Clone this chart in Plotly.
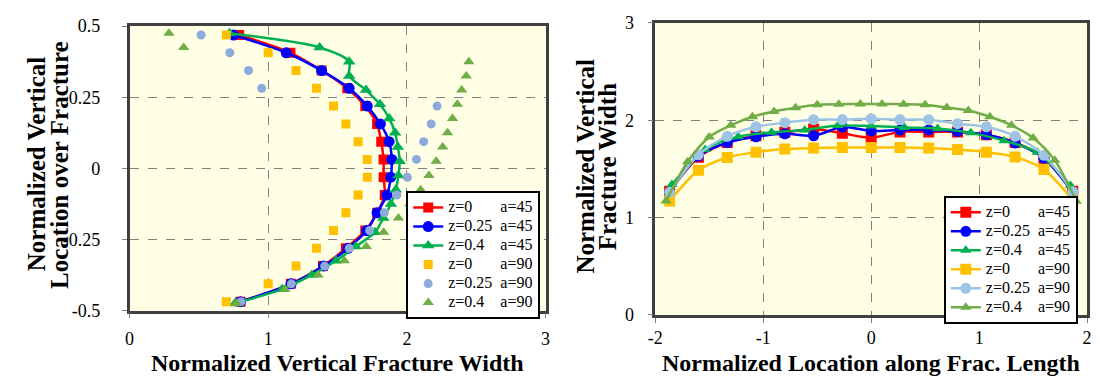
import plotly.graph_objects as go

# ---------------- left panel: width profile over fracture height ----------------
# vertical locations (16-cell and 20-cell discretisations)
y16 = [0.46875, 0.40625, 0.34375, 0.28125, 0.21875, 0.15625, 0.09375, 0.03125,
       -0.03125, -0.09375, -0.15625, -0.21875, -0.28125, -0.34375, -0.40625, -0.46875]
y20 = [0.475, 0.425, 0.375, 0.325, 0.275, 0.225, 0.175, 0.125, 0.075, 0.025,
       -0.025, -0.075, -0.125, -0.175, -0.225, -0.275, -0.325, -0.375, -0.425, -0.475]

wv_z0_a45 = [0.79, 1.16, 1.385, 1.57, 1.70, 1.785, 1.815, 1.832,
             1.832, 1.84, 1.785, 1.70, 1.56, 1.395, 1.163, 0.80]
wv_z025_a45 = [0.75, 1.13, 1.385, 1.584, 1.714, 1.809, 1.872, 1.891,
               1.884, 1.856, 1.785, 1.71, 1.575, 1.40, 1.165, 0.80]
wv_z04_a45 = [0.72, 1.371, 1.584, 1.584, 1.705, 1.806, 1.873, 1.915, 1.935, 1.948,
              1.939, 1.92, 1.885, 1.83, 1.77, 1.631, 1.489, 1.315, 1.10, 0.76]
wv_z0_a90 = [0.698, 1.0, 1.201, 1.348, 1.471, 1.560, 1.648, 1.714,
             1.714, 1.648, 1.560, 1.471, 1.348, 1.201, 1.0, 0.698]
wv_z025_a90 = [0.516, 0.723, 0.858, 0.953, 2.218, 2.175, 2.121, 2.069,
               2.003, 1.927, 1.837, 1.731, 1.584, 1.407, 1.167, 0.804]
wv_z04_a90 = [0.284, 0.39, 2.447, 2.428, 2.395, 2.364, 2.329, 2.293, 2.258, 2.211,
              2.159, 2.099, 2.021, 1.939, 1.832, 1.707, 1.549, 1.359, 1.12, 0.77]

# ---------------- right panel: width along fracture length ----------------
x15 = [-1.867, -1.6, -1.333, -1.067, -0.8, -0.533, -0.267, 0.0,
       0.267, 0.533, 0.8, 1.067, 1.333, 1.6, 1.867]
x13 = [-1.846, -1.538, -1.231, -0.923, -0.615, -0.308, 0.0,
       0.308, 0.615, 0.923, 1.231, 1.538, 1.846]
x20 = [-1.9, -1.7, -1.5, -1.3, -1.1, -0.9, -0.7, -0.5, -0.3, -0.1,
       0.1, 0.3, 0.5, 0.7, 0.9, 1.1, 1.3, 1.5, 1.7, 1.9]

wl_z0_a45 = [1.27, 1.62, 1.77, 1.84, 1.875, 1.91, 1.865, 1.82,
             1.88, 1.88, 1.88, 1.85, 1.77, 1.61, 1.27]
wl_z025_a45 = [1.26, 1.63, 1.77, 1.83, 1.86, 1.84, 1.93, 1.89,
               1.90, 1.90, 1.885, 1.85, 1.765, 1.61, 1.26]
wl_z04_a45 = [1.34, 1.70, 1.83, 1.875, 1.90, 1.945, 1.94,
              1.925, 1.915, 1.87, 1.79, 1.67, 1.33]
wl_z0_a90 = [1.17, 1.485, 1.617, 1.672, 1.704, 1.714, 1.72, 1.72,
             1.72, 1.714, 1.698, 1.672, 1.623, 1.494, 1.18]
wl_z025_a90 = [1.26, 1.645, 1.834, 1.932, 1.975, 2.005, 2.006, 2.015,
               2.006, 2.005, 1.964, 1.932, 1.834, 1.64, 1.266]
wl_z04_a90 = [1.17, 1.574, 1.828, 1.947, 2.035, 2.09, 2.127, 2.159, 2.165, 2.167,
              2.167, 2.165, 2.159, 2.13, 2.10, 2.035, 1.947, 1.818, 1.59, 1.168]

# axis ticks
left_xticks = [0, 1, 2, 3]
left_yticks = [0.5, 0.25, 0, -0.25, -0.5]
left_yticktext = ["0.5", "0.25", "0", "-0.25", "-0.5"]
right_xticks = [-2, -1, 0, 1, 2]
right_xticktext = ["-2", "-1", "0", "1", "2"]
right_yticks = [0, 1, 2, 3]

# legend labels (two aligned columns)
labels = [("z=0", "a=45"), ("z=0.25", "a=45"), ("z=0.4", "a=45"),
          ("z=0", "a=90"), ("z=0.25", "a=90"), ("z=0.4", "a=90")]

SERIF = "Liberation Serif"
RED, BLUE, GREEN = "#FF0000", "#0000FF", "#00B050"
GOLD, OLIVE = "#FFC000", "#70AD47"
LBLUE_L, LBLUE_R = "#8EA9DB", "#9DC3E6"


def legend_name(z, a):
    pad = {"z=0": 7, "z=0.25": 2, "z=0.4": 4}[z]
    return ('<span style="font-size:16px">' + z + "\u00a0" * pad + a + "</span>")


fig = go.Figure()

# left panel traces
left_specs = [
    (wv_z0_a45, y16, RED, "square", "lines+markers", 10),
    (wv_z025_a45, y16, BLUE, "circle", "lines+markers", 11),
    (wv_z04_a45, y20, GREEN, "triangle-up", "lines+markers", 11),
    (wv_z0_a90, y16, GOLD, "square", "markers", 9),
    (wv_z025_a90, y16, LBLUE_L, "circle", "markers", 9),
    (wv_z04_a90, y20, OLIVE, "triangle-up", "markers", 10),
]
for (xv, yv, col, sym, mode, ms), (z, a) in zip(left_specs, labels):
    fig.add_trace(go.Scatter(
        x=xv, y=yv, mode=mode, name=legend_name(z, a),
        line=dict(color=col, width=2.5, shape="spline", smoothing=0.8),
        marker=dict(color=col, symbol=sym, size=ms),
        xaxis="x", yaxis="y", legend="legend"))

# right panel traces
right_specs = [
    (x15, wl_z0_a45, RED, "square"),
    (x15, wl_z025_a45, BLUE, "circle"),
    (x13, wl_z04_a45, GREEN, "triangle-up"),
    (x15, wl_z0_a90, GOLD, "square"),
    (x15, wl_z025_a90, LBLUE_R, "circle"),
    (x20, wl_z04_a90, OLIVE, "triangle-up"),
]
for (xv, yv, col, sym), (z, a) in zip(right_specs, labels):
    fig.add_trace(go.Scatter(
        x=xv, y=yv, mode="lines+markers", name=legend_name(z, a),
        line=dict(color=col, width=2.5, shape="spline", smoothing=0.8),
        marker=dict(color=col, symbol=sym, size=11 if sym != "triangle-up" else 10),
        xaxis="x2", yaxis="y2", legend="legend2"))

axis_common = dict(
    showgrid=True, gridcolor="#808080", gridwidth=1, griddash="dash",
    zeroline=False, showline=True, mirror=True, linecolor="#404040", linewidth=2.5,
    ticks="outside", ticklen=5, tickcolor="#808080", tickwidth=1,
    tickfont=dict(family=SERIF, size=18, color="black"),
)

legend_common = dict(
    xanchor="left", yanchor="top", bgcolor="white", bordercolor="black",
    borderwidth=2, font=dict(family=SERIF, size=10.8, color="black"),
    tracegroupgap=0, itemwidth=30,
)

fig.update_layout(
    width=1100, height=385,
    margin=dict(l=0, r=0, t=0, b=0),
    paper_bgcolor="white",
    plot_bgcolor="#FFFFE5",
    font=dict(family=SERIF),
    showlegend=True,
    xaxis=dict(domain=[123 / 1100, 544 / 1100], range=[0, 3], anchor="y",
               tickvals=left_xticks, ticklabelstandoff=5, **axis_common),
    yaxis=dict(domain=[68 / 385, 368 / 385], range=[-0.5, 0.5], anchor="x",
               tickvals=left_yticks, ticktext=left_yticktext,
               ticklabelstandoff=18, **axis_common),
    xaxis2=dict(domain=[655 / 1100, 1092 / 1100], range=[-2, 2], anchor="y2",
                tickvals=right_xticks, ticktext=right_xticktext,
                ticklabelstandoff=0, **axis_common),
    yaxis2=dict(domain=[63.3 / 385, 371.5 / 385], range=[0, 3], anchor="x2",
                tickvals=right_yticks, ticklabelstandoff=10, **axis_common),
    legend=dict(x=403 / 1100, y=(385 - 191) / 385, **legend_common),
    legend2=dict(x=947 / 1100, y=(385 - 196) / 385, **legend_common),
)

# axis titles
xtitle_font = dict(family=SERIF, size=24, color="black")
ytitle_font = dict(family=SERIF, size=25, color="black")
fig.add_annotation(text="<b>Normalized Vertical Fracture Width</b>",
                   xref="paper", yref="paper", x=333 / 1100, y=(385 - 372) / 385,
                   showarrow=False, font=xtitle_font, xanchor="center", yanchor="middle")
fig.add_annotation(text="<b>Normalized Location along Frac. Length</b>",
                   xref="paper", yref="paper", x=873 / 1100, y=(385 - 372) / 385,
                   showarrow=False, font=xtitle_font, xanchor="center", yanchor="middle")
for txt, xc, yc in [("Normalized Vertical", 29, 162), ("Location over Fracture", 52, 163),
                    ("Normalized Vertical", 584, 165), ("Fracture Width", 607, 165)]:
    fig.add_annotation(text="<b>" + txt + "</b>", xref="paper", yref="paper",
                       x=xc / 1100, y=(385 - yc) / 385, showarrow=False,
                       font=ytitle_font, textangle=-90,
                       xanchor="center", yanchor="middle")

fig.write_html("out.html")
